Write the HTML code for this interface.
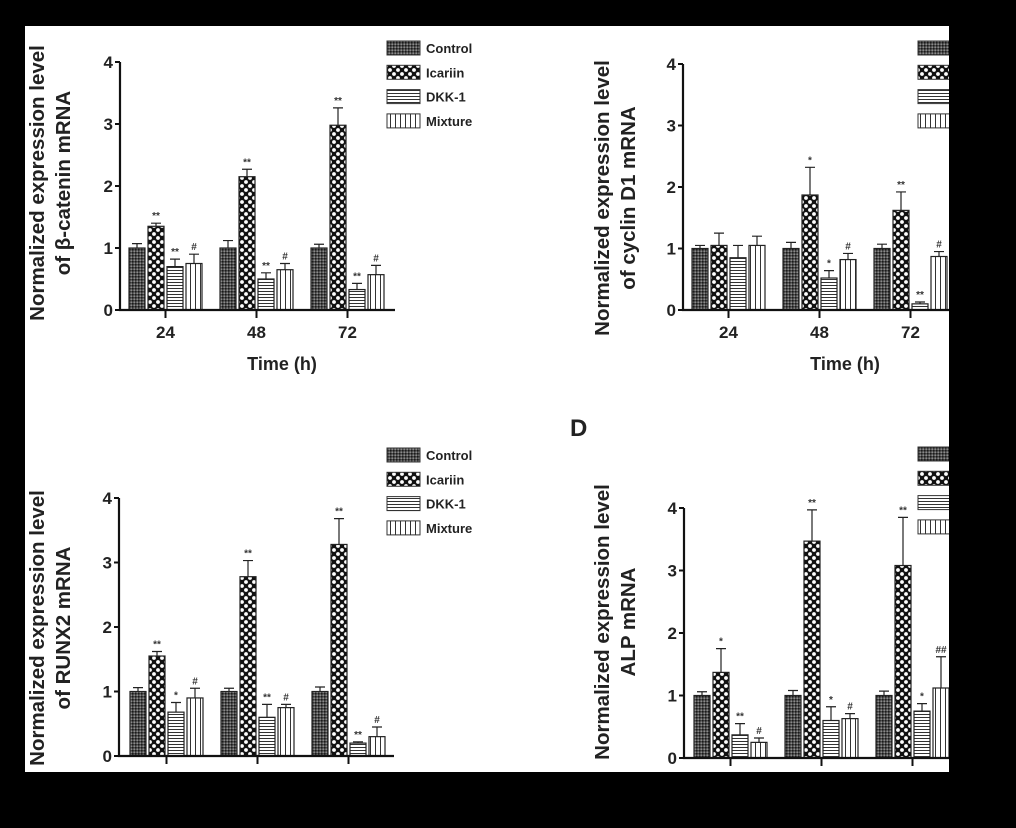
<!DOCTYPE html>
<html><head><meta charset="utf-8"><style>
html,body{margin:0;padding:0;background:#000;}
svg{display:block;font-family:"Liberation Sans",Arial,sans-serif;font-weight:bold;}
</style></head><body>
<svg id="fig" width="1016" height="828" viewBox="0 0 1016 828" xmlns="http://www.w3.org/2000/svg">
<defs>
<pattern id="pCtrl" width="3" height="3" patternUnits="userSpaceOnUse"><rect width="3" height="3" fill="#4a4a4a"/><rect width="1.5" height="1.5" fill="#1a1a1a"/><rect x="1.5" y="1.5" width="1.5" height="1.5" fill="#8a8a8a"/></pattern>
<pattern id="pIca" width="8" height="8" patternUnits="userSpaceOnUse"><rect width="8" height="8" fill="#111"/><circle cx="2" cy="2" r="1.9" fill="#fff"/><circle cx="6" cy="6" r="1.9" fill="#fff"/></pattern>
<pattern id="pDkk" width="4" height="3" patternUnits="userSpaceOnUse"><rect width="4" height="3" fill="#fff"/><rect y="0" width="4" height="1" fill="#333"/></pattern>
<pattern id="pMix" width="5" height="4" patternUnits="userSpaceOnUse"><rect width="5" height="4" fill="#fff"/><rect x="0" width="1" height="4" fill="#333"/></pattern>
</defs>
<rect x="25" y="26" width="924" height="746" fill="#fff"/>
<g id="content"></g>
<rect x="949" y="0" width="67" height="828" fill="#000"/>
<rect x="0" y="772" width="1016" height="56" fill="#000"/>
</svg>
<script>
const categories = ["24","48","72"];
const seriesNames = ["Control","Icariin","DKK-1","Mixture"];
const yTicks = [0,1,2,3,4];
// Panel A: beta-catenin
const aControl=[1,1,1], aControlErr=[0.07,0.12,0.06];
const aIcariin=[1.35,2.15,2.98], aIcariinErr=[0.05,0.12,0.28];
const aDkk=[0.7,0.5,0.33], aDkkErr=[0.12,0.1,0.1];
const aMix=[0.75,0.65,0.57], aMixErr=[0.15,0.1,0.15];
const aSig=[["","",""],["**","**","**"],["**","**","**"],["#","#","#"]];
// Panel B: cyclin D1
const bControl=[1,1,1], bControlErr=[0.05,0.1,0.07];
const bIcariin=[1.05,1.87,1.62], bIcariinErr=[0.2,0.45,0.3];
const bDkk=[0.85,0.52,0.1], bDkkErr=[0.2,0.12,0.03];
const bMix=[1.05,0.82,0.87], bMixErr=[0.15,0.1,0.08];
const bSig=[["","",""],["","*","**"],["","*","**"],["","#","#"]];
// Panel C: RUNX2
const cControl=[1,1,1], cControlErr=[0.06,0.05,0.07];
const cIcariin=[1.55,2.78,3.28], cIcariinErr=[0.07,0.25,0.4];
const cDkk=[0.68,0.6,0.2], cDkkErr=[0.15,0.2,0.02];
const cMix=[0.9,0.75,0.3], cMixErr=[0.15,0.05,0.15];
const cSig=[["","",""],["**","**","**"],["*","**","**"],["#","#","#"]];
// Panel D: ALP
const dControl=[1,1,1], dControlErr=[0.06,0.08,0.07];
const dIcariin=[1.37,3.47,3.08], dIcariinErr=[0.38,0.5,0.77];
const dDkk=[0.37,0.6,0.75], dDkkErr=[0.18,0.22,0.12];
const dMix=[0.25,0.63,1.12], dMixErr=[0.07,0.08,0.5];
const dSig=[["","",""],["*","**","**"],["**","*","*"],["#","#","##"]];

const fills=["url(#pCtrl)","url(#pIca)","url(#pDkk)","url(#pMix)"];
const NS="http://www.w3.org/2000/svg";
const root=document.getElementById('content');
function mk(tag,attrs,parent){const e=document.createElementNS(NS,tag);for(const k in attrs)e.setAttribute(k,attrs[k]);(parent||root).appendChild(e);return e;}

function panel(p){
  const g=mk('g',{});
  
  
  const y=v=>p.y0-v*p.unit;
  const xb=(gi,si)=>p.g0+gi*91+si*19;
  const series=[[p.c,p.ce],[p.i,p.ie],[p.d,p.de],[p.m,p.me]];
  series.forEach((s,si)=>{
    s[0].forEach((v,gi)=>{
      const x=xb(gi,si), top=y(v), et=y(v+s[1][gi]);
      const r=mk('rect',{x:x,y:top,width:16,height:p.y0-top,fill:fills[si],stroke:'#222','stroke-width':1.2},g);
      
      
      const eb=mk('path',{d:`M${x+8} ${top}V${et}M${x+3} ${et}H${x+13}`,stroke:'#222','stroke-width':1.2,fill:'none'},g);
      
      
      const lab=p.sig[si][gi];
      if(lab){const t=mk('text',{x:x+8,y:et-4,'font-size':10,'text-anchor':'middle',fill:'#333'},g);t.textContent=lab;
        
        }
    });
  });
  const ax=mk('path',{d:`M${p.ax} ${y(4)}V${p.y0}H${p.ax+275}`,stroke:'#111','stroke-width':2.2,fill:'none'},g);
  
  
  yTicks.forEach(t=>{
    mk('path',{d:`M${p.ax-5} ${y(t)}H${p.ax}`,stroke:'#111','stroke-width':2},g);
    const tl=mk('text',{x:p.ax-7,y:y(t)+6,'font-size':17,'text-anchor':'end',fill:'#222'},g);
    tl.textContent=t;
    
    
  });
  categories.forEach((c,gi)=>{
    const cx=p.g0+gi*91+36.5;
    mk('path',{d:`M${cx} ${p.y0}V${p.y0+8}`,stroke:'#111','stroke-width':2},g);
    const tl=mk('text',{x:cx,y:p.y0+28,'font-size':17,'text-anchor':'middle',fill:'#222'},g);
    tl.textContent=c;
    
    
  });
  const xt=mk('text',{x:p.ax+162,y:p.y0+60,'font-size':18,'text-anchor':'middle',fill:'#222'},g);
  xt.textContent='Time (h)';
  
  
  const yt=mk('text',{transform:`translate(${p.tx},${p.ty}) rotate(-90)`,'font-size':20.5,'text-anchor':'middle',fill:'#222'},g);
  
  
  p.title.forEach((l,i)=>{const ts=mk('tspan',{x:0,y:i*26},yt);ts.textContent=l;});
  seriesNames.forEach((n,i)=>{
    const ly=p.ly+i*24.3;
    const sw=mk('rect',{x:p.lx,y:ly,width:33,height:14,fill:fills[i],stroke:'#333','stroke-width':1},g);
    
    
    const lt=mk('text',{x:p.lx+39,y:ly+12,'font-size':13,fill:'#222'},g);
    lt.textContent=n;
    
    
  });
}
panel({name:'panel-a-beta-catenin',ax:120,y0:310,unit:62,g0:129,c:aControl,ce:aControlErr,i:aIcariin,ie:aIcariinErr,d:aDkk,de:aDkkErr,m:aMix,me:aMixErr,sig:aSig,tx:44,ty:183,title:['Normalized expression level','of β-catenin mRNA'],lx:387,ly:41});
panel({name:'panel-b-cyclin-d1',ax:683,y0:310,unit:61.5,g0:692,c:bControl,ce:bControlErr,i:bIcariin,ie:bIcariinErr,d:bDkk,de:bDkkErr,m:bMix,me:bMixErr,sig:bSig,tx:609,ty:198,title:['Normalized expression level','of cyclin D1 mRNA'],lx:918,ly:41});
panel({name:'panel-c-runx2',ax:119,y0:756,unit:64.5,g0:130,c:cControl,ce:cControlErr,i:cIcariin,ie:cIcariinErr,d:cDkk,de:cDkkErr,m:cMix,me:cMixErr,sig:cSig,tx:44,ty:628,title:['Normalized expression level','of RUNX2 mRNA'],lx:387,ly:448});
panel({name:'panel-d-alp',ax:684,y0:758,unit:62.5,g0:694,c:dControl,ce:dControlErr,i:dIcariin,ie:dIcariinErr,d:dDkk,de:dDkkErr,m:dMix,me:dMixErr,sig:dSig,tx:609,ty:622,title:['Normalized expression level','ALP mRNA'],lx:918,ly:447});
const D=mk('text',{x:570,y:436,'font-size':24,fill:'#222'});
D.textContent='D';


</script>
</body></html>
